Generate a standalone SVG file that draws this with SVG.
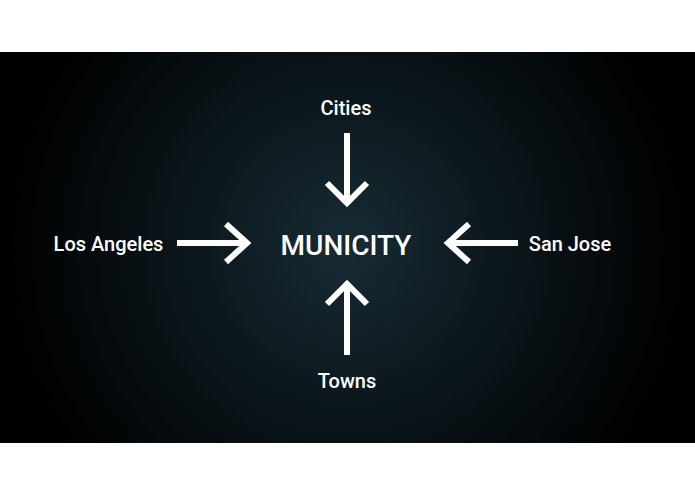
<svg xmlns="http://www.w3.org/2000/svg" width="695" height="494" viewBox="0 0 695 494">
<defs>
<radialGradient id="bg" gradientUnits="userSpaceOnUse" cx="347" cy="247" r="360">
<stop offset="0" stop-color="#172b34"/>
<stop offset="0.45" stop-color="#0b161b"/>
<stop offset="0.95" stop-color="#000000"/>
</radialGradient>
<style>
.lbl{font-family:Roboto,"Liberation Sans",sans-serif;font-weight:500;font-size:20px;fill:#ffffff}
.main{font-family:Roboto,"Liberation Sans",sans-serif;font-weight:500;font-size:28px;fill:#ffffff}
.arr{fill:none;stroke:#ffffff;stroke-width:6;stroke-linecap:butt;stroke-linejoin:miter}
</style>
</defs>
<rect x="0" y="0" width="695" height="494" fill="#ffffff"/>
<rect x="0" y="52" width="695" height="391" fill="url(#bg)"/>
<g id="connectors">
<path class="arr" d="M347 133 V202 M327 183 L347 203 L367 183"/>
<path class="arr" d="M347 355 V285 M327 304 L347 284 L367 304"/>
<path class="arr" d="M177 243 H246 M226 224 L247 243 L226 262"/>
<path class="arr" d="M518 243 H449 M469 224 L448 243 L469 262"/>
</g>
<g id="municity"><text class="main" x="346" y="255" text-anchor="middle">MUNICITY</text></g>
<g id="cities"><text class="lbl" x="346" y="115" text-anchor="middle">Cities</text></g>
<g id="towns"><text class="lbl" x="347" y="388" text-anchor="middle">Towns</text></g>
<g id="losangeles"><text class="lbl" x="108.5" y="251" text-anchor="middle">Los Angeles</text></g>
<g id="sanjose"><text class="lbl" x="570" y="251" text-anchor="middle">San Jose</text></g>
</svg>
